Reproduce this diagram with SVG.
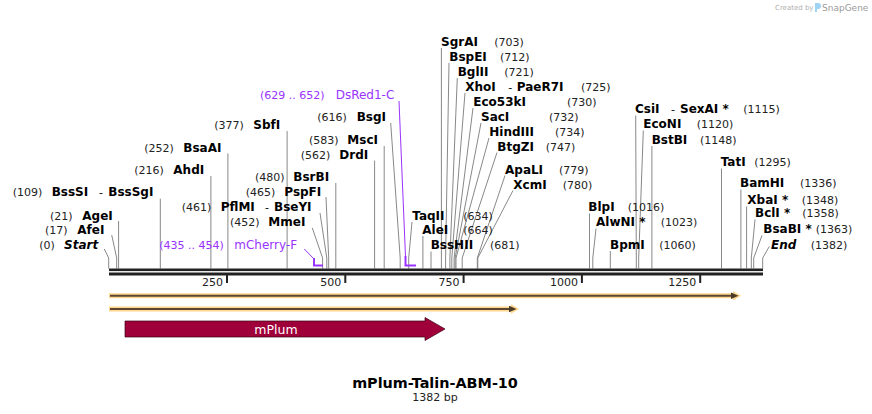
<svg xmlns="http://www.w3.org/2000/svg" width="872" height="414" viewBox="0 0 872 414">
<style>
text{font-family:"DejaVu Sans",Verdana,sans-serif;fill:#000}
.p{font-size:11px;fill:#222}
.n{font-size:12px;font-weight:bold}
.i{font-style:italic}
.h{font-size:11px}
.pr{font-size:12px;fill:#9933ff}
.prp{font-size:11px;fill:#9933ff}
.s{fill:none;stroke:#888;stroke-width:1}
.pl{fill:none;stroke:#9933ff;stroke-width:1}
.pb{fill:none;stroke:#9933ff;stroke-width:2}
.tk{font-size:11px;fill:#222;text-anchor:end}
</style>
<rect width="872" height="414" fill="#fff"/>
<g id="watermark">
<text x="775" y="10" style="font-size:7px;fill:#b0b0b0">Created by</text>
<path d="M815,3 h3 q3,0 3,3 q0,3 -3,3 h-1 v3 h-2 z" fill="#9fd3f5"/>
<text x="822" y="11" style="font-size:9px;fill:#9a9a9a">SnapGene</text>
</g>
<g id="connectors">
<path class="s" d="M104.3,249 L108.7,258 V268.5"/>
<path class="s" d="M111.7,235 L116.7,258 V268.5"/>
<path class="s" d="M118.6,221 V268.5"/>
<path class="s" d="M160.3,198.7 V268.5"/>
<path class="s" d="M210.9,176 V268.5"/>
<path class="s" d="M227.9,153.5 V268.5"/>
<path class="s" d="M287.1,131 V268.5"/>
<path class="s" d="M312.3,228 L322.6,258 V268.5"/>
<path class="s" d="M320,213 L326.8,258 V268.5"/>
<path class="s" d="M326,197 L328.7,258 V268.5"/>
<path class="s" d="M335.8,183 V268.5"/>
<path class="s" d="M374.6,160.5 V268.5"/>
<path class="s" d="M384.2,146 V268.5"/>
<path class="s" d="M390.7,123 L400.2,258 V268.5"/>
<path class="s" d="M412,222 L408.7,258 V268.5"/>
<path class="s" d="M422.9,236 V268.5"/>
<path class="s" d="M431,251.5 V268.5"/>
<path class="s" d="M441.4,48 V268.5"/>
<path class="s" d="M449,63 L445.6,258 V268.5"/>
<path class="s" d="M457.3,78 L449.9,258 V268.5"/>
<path class="s" d="M465,93 L451.8,258 V268.5"/>
<path class="s" d="M473,108 L454.1,258 V268.5"/>
<path class="s" d="M481,123 L455.1,258 V268.5"/>
<path class="s" d="M489,138 L456,258 V268.5"/>
<path class="s" d="M497,152.5 L462.2,258 V268.5"/>
<path class="s" d="M505,175.5 L477.3,258 V268.5"/>
<path class="s" d="M513,190.5 L477.8,258 V268.5"/>
<path class="s" d="M589.5,213.5 V268.5"/>
<path class="s" d="M596,228.5 L592.8,258 V268.5"/>
<path class="s" d="M610.3,251 V268.5"/>
<path class="s" d="M635.7,115.5 L636.3,258 V268.5"/>
<path class="s" d="M643.3,130.5 L638.7,258 V268.5"/>
<path class="s" d="M651.9,146 V268.5"/>
<path class="s" d="M721.5,168.5 V268.5"/>
<path class="s" d="M740.9,189.5 V268.5"/>
<path class="s" d="M746.6,206.5 V268.5"/>
<path class="s" d="M755,219.5 L751.3,258 V268.5"/>
<path class="s" d="M762,235.5 L753.7,258 V268.5"/>
<path class="s" d="M769.3,246.5 L762.7,258 V268.5"/>
<path class="pl" d="M304.3,249 L314,259"/>
<path class="pb" d="M314,258 V265.5 H323"/>
<path class="pl" d="M399,101 L405.5,257"/>
<path class="pb" d="M405.5,256 V265.5 H416"/>
</g>
<g id="backbone">
<rect x="109" y="268.5" width="654" height="2.6" fill="#222"/>
<rect x="109" y="272.5" width="654" height="3" fill="#222"/>
<rect x="226" y="275" width="2" height="8" fill="#222"/>
<rect x="344.3" y="275" width="2" height="8" fill="#222"/>
<rect x="462.6" y="275" width="2" height="8" fill="#222"/>
<rect x="580.9" y="275" width="2" height="8" fill="#222"/>
<rect x="699.2" y="275" width="2" height="8" fill="#222"/>
<text class="tk" x="223" y="286">250</text>
<text class="tk" x="341.3" y="286">500</text>
<text class="tk" x="459.6" y="286">750</text>
<text class="tk" x="577.9" y="286">1000</text>
<text class="tk" x="696.2" y="286">1250</text>
</g>
<g id="labels-left">
<text class="p" x="39.3" y="249">(0)</text><text class="n i" x="64" y="249">Start</text>
<text class="p" x="45" y="234">(17)</text><text class="n" x="77.3" y="234">AfeI</text>
<text class="p" x="50" y="220">(21)</text><text class="n" x="82.3" y="220">AgeI</text>
<text class="p" x="12.7" y="196">(109)</text><text class="n" x="51.7" y="196">BssSI</text><text class="h" x="99" y="196">-</text><text class="n" x="108.3" y="196">BssSgI</text>
<text class="p" x="134.3" y="174">(216)</text><text class="n" x="173.3" y="174">AhdI</text>
<text class="p" x="144.3" y="151.5">(252)</text><text class="n" x="183.3" y="151.5">BsaAI</text>
<text class="p" x="214.3" y="128.5">(377)</text><text class="n" x="253.3" y="128.5">SbfI</text>
<text class="p" x="181.7" y="211">(461)</text><text class="n" x="220.7" y="211">PflMI</text><text class="h" x="265" y="211">-</text><text class="n" x="274" y="211">BseYI</text>
<text class="p" x="230" y="226">(452)</text><text class="n" x="268.3" y="226">MmeI</text>
<text class="p" x="245.7" y="196">(465)</text><text class="n" x="284.3" y="196">PspFI</text>
<text class="p" x="255" y="181">(480)</text><text class="n" x="293.3" y="181">BsrBI</text>
<text class="p" x="300.7" y="158.5">(562)</text><text class="n" x="339.3" y="158.5">DrdI</text>
<text class="p" x="309" y="144">(583)</text><text class="n" x="347.3" y="144">MscI</text>
<text class="p" x="317.3" y="121">(616)</text><text class="n" x="356.7" y="121">BsgI</text>
<text class="prp" x="260" y="99">(629 .. 652)</text><text class="pr" x="335.7" y="99">DsRed1-C</text>
<text class="prp" x="159.3" y="249">(435 .. 454)</text><text class="pr" x="234.3" y="249">mCherry-F</text>
</g>
<g id="labels-right">
<text class="n" x="441" y="46">SgrAI</text><text class="p" x="494.3" y="46">(703)</text>
<text class="n" x="449.3" y="61">BspEI</text><text class="p" x="500" y="61">(712)</text>
<text class="n" x="457.7" y="76">BglII</text><text class="p" x="504.3" y="76">(721)</text>
<text class="n" x="465.3" y="91">XhoI</text><text class="h" x="508.3" y="91">-</text><text class="n" x="516.7" y="91">PaeR7I</text><text class="p" x="581" y="91">(725)</text>
<text class="n" x="473.3" y="106">Eco53kI</text><text class="p" x="567" y="106">(730)</text>
<text class="n" x="481" y="121">SacI</text><text class="p" x="549" y="121">(732)</text>
<text class="n" x="489.3" y="136">HindIII</text><text class="p" x="555" y="136">(734)</text>
<text class="n" x="497.3" y="150.5">BtgZI</text><text class="p" x="545.7" y="150.5">(747)</text>
<text class="n" x="505" y="173.5">ApaLI</text><text class="p" x="559" y="173.5">(779)</text>
<text class="n" x="513.3" y="188.5">XcmI</text><text class="p" x="562.7" y="188.5">(780)</text>
<text class="n" x="412.3" y="219.5">TaqII</text><text class="p" x="463.3" y="219.5">(634)</text>
<text class="n" x="422.3" y="233.5">AleI</text><text class="p" x="463.3" y="233.5">(664)</text>
<text class="n" x="430.7" y="249">BssHII</text><text class="p" x="490" y="249">(681)</text>
<text class="n" x="588.3" y="211">BlpI</text><text class="p" x="627.7" y="211">(1016)</text>
<text class="n" x="596" y="226">AlwNI *</text><text class="p" x="660.7" y="226">(1023)</text>
<text class="n" x="610" y="248.5">BpmI</text><text class="p" x="659.3" y="248.5">(1060)</text>
<text class="n" x="635" y="113">CsiI</text><text class="h" x="671" y="113">-</text><text class="n" x="680" y="113">SexAI *</text><text class="p" x="743.3" y="113">(1115)</text>
<text class="n" x="643.3" y="128">EcoNI</text><text class="p" x="696.7" y="128">(1120)</text>
<text class="n" x="651.7" y="143.5">BstBI</text><text class="p" x="700" y="143.5">(1148)</text>
<text class="n" x="720.7" y="166">TatI</text><text class="p" x="754.3" y="166">(1295)</text>
<text class="n" x="740" y="187">BamHI</text><text class="p" x="800" y="187">(1336)</text>
<text class="n" x="747.3" y="204">XbaI *</text><text class="p" x="801.7" y="204">(1348)</text>
<text class="n" x="755" y="217">BclI *</text><text class="p" x="802.3" y="217">(1358)</text>
<text class="n" x="763.3" y="233">BsaBI *</text><text class="p" x="815.7" y="233">(1363)</text>
<text class="n i" x="771" y="248.5">End</text><text class="p" x="810.7" y="248.5">(1382)</text>
</g>
<g id="orf1">
<path d="M109,293.3 H733 V291 L741,295.8 L733,300.6 V298.3 H109 Z" fill="#ffd68c"/>
<path d="M110,295.8 H733" stroke="#5a4632" stroke-width="2"/>
<path d="M731,292.6 L738.5,295.8 L731,299 Z" fill="#4a3a28"/>
</g>
<g id="orf2">
<path d="M109,306.5 H511 V304.2 L519,309 L511,313.8 V311.5 H109 Z" fill="#ffd68c"/>
<path d="M110,309 H511" stroke="#5a4632" stroke-width="2"/>
<path d="M509,305.8 L516.5,309 L509,312.2 Z" fill="#4a3a28"/>
</g>
<g id="mPlum">
<path d="M125,321 H425 V317.5 L445,329 L425,340.5 V337 H125 Z" fill="#a0003a" stroke="#3a0014" stroke-width="0.7"/>
<text x="276" y="333.5" text-anchor="middle" style="font-size:12.5px;fill:#fff">mPlum</text>
</g>
<g id="title">
<text x="435" y="388" text-anchor="middle" style="font-size:14.4px;font-weight:bold">mPlum-Talin-ABM-10</text>
<text x="435" y="401" text-anchor="middle" style="font-size:11px;fill:#222">1382 bp</text>
</g>
</svg>
